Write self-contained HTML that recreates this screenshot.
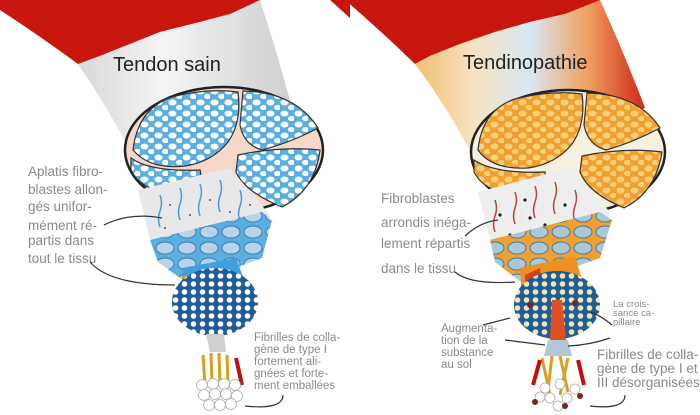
<!DOCTYPE html>
<html><head><meta charset="utf-8"><style>
html,body{margin:0;padding:0;background:#fff;width:700px;height:415px;overflow:hidden}
svg{display:block}
text{font-family:"Liberation Sans",sans-serif}
.lab{fill:#8a8a8a;font-size:13.5px}
.sm{fill:#8a8a8a;font-size:11.5px}
</style></head><body>
<svg width="700" height="415" viewBox="0 0 700 415" xmlns="http://www.w3.org/2000/svg">
<defs>
<pattern id="bcell" width="14" height="11" patternUnits="userSpaceOnUse">
<rect width="14" height="11" fill="#5aaee0"/><ellipse cx="4.5" cy="3.5" rx="4" ry="3" fill="#fff"/><ellipse cx="11.5" cy="8.5" rx="3.5" ry="2.6" fill="#fff"/></pattern>
<pattern id="ocell" width="14" height="11" patternUnits="userSpaceOnUse">
<rect width="14" height="11" fill="#f0a030"/><ellipse cx="4.5" cy="3.5" rx="4" ry="3" fill="#fbd07a"/><ellipse cx="11.5" cy="8.5" rx="3.5" ry="2.6" fill="#fbd07a"/></pattern>
<pattern id="bdisc" width="9" height="8" patternUnits="userSpaceOnUse">
<rect width="9" height="8" fill="#1f5c9a"/><circle cx="4.5" cy="4" r="2.8" fill="#fff"/></pattern>
<pattern id="odisc" width="9" height="8" patternUnits="userSpaceOnUse">
<rect width="9" height="8" fill="#1f5c9a"/><circle cx="4.5" cy="4" r="2.8" fill="#f2e6b0"/></pattern>
<pattern id="bsmall" width="22" height="16" patternUnits="userSpaceOnUse">
<rect width="22" height="16" fill="#5aaee0"/><ellipse cx="11" cy="8" rx="9" ry="6" fill="#b8d4e8" stroke="#3a7ab0" stroke-width="1"/></pattern>
<pattern id="osmall" width="22" height="16" patternUnits="userSpaceOnUse">
<rect width="22" height="16" fill="#f0a030"/><ellipse cx="11" cy="8" rx="9" ry="6" fill="#a8c8d8" stroke="#3a7ab0" stroke-width="1"/></pattern>
<linearGradient id="shaftL" x1="0" x2="1"><stop offset="0" stop-color="#d8d8d8"/><stop offset="0.4" stop-color="#f4f4f4"/><stop offset="1" stop-color="#cfcfcf"/></linearGradient>
<linearGradient id="shaftR" x1="0" x2="1"><stop offset="0" stop-color="#f0c070"/><stop offset="0.25" stop-color="#f7e2c0"/><stop offset="0.5" stop-color="#d8e8f4"/><stop offset="0.75" stop-color="#f0a060"/><stop offset="1" stop-color="#d02818"/></linearGradient>
</defs>

<!-- LEFT PANEL -->
<path d="M0,0 L260,0 L255,8 L230,14 L200,22 L160,32 L130,44 L100,56 L78,64 Q40,36 0,10 Z" fill="#c8160e"/>
<path d="M330,0 L350,0 L350,18 Z" fill="#c8160e"/>
<path d="M78,64 L100,56 L130,44 L160,32 L200,22 L230,14 L260,0 Q278,55 292,108 L140,170 Q110,110 78,64 Z" fill="url(#shaftL)"/>
<ellipse cx="224" cy="150" rx="99" ry="63" fill="#f6d8c8" stroke="#222" stroke-width="2.5"/>
<path d="M133,150 Q138,108 172,97 Q205,88 238,92 Q242,122 228,142 Q212,162 185,166 Q150,170 133,150Z" fill="url(#bcell)" stroke="#333" stroke-width="1.2"/>
<path d="M243,91 Q295,92 318,128 Q292,142 262,150 Q244,145 240,125Z" fill="url(#bcell)" stroke="#333" stroke-width="1.2"/>
<path d="M131,158 Q150,172 200,170 Q205,185 175,195 Q140,190 131,170Z" fill="url(#bcell)" stroke="#333" stroke-width="1.2"/>
<path d="M238,155 Q280,146 320,150 Q315,190 282,207 Q245,192 236,172Z" fill="url(#bcell)" stroke="#333" stroke-width="1.2"/>
<path d="M138,190 L230,168 L270,215 L262,240 L175,265 L150,240Z" fill="#e8e8ea"/>
<g stroke="#4a9ad0" stroke-width="1.5" fill="none">
<path d="M160,195 q3,8 0,16 q-3,8 0,16"/><path d="M180,188 q3,8 0,16 q-3,8 0,16"/><path d="M200,184 q3,8 0,16 q-3,8 0,16"/><path d="M220,180 q3,8 0,16 q-3,8 0,16"/><path d="M240,190 q3,8 0,16 q-3,8 0,16"/></g>
<g fill="#555"><circle cx="170" cy="205" r="1"/><circle cx="190" cy="215" r="1"/><circle cx="210" cy="200" r="1"/><circle cx="230" cy="212" r="1"/><circle cx="165" cy="228" r="1"/><circle cx="200" cy="228" r="1"/><circle cx="250" cy="205" r="1"/></g>
<path d="M150,240 L262,212 L272,220 L262,258 L190,285 L158,262Z" fill="url(#bsmall)"/>
<path d="M182,268 L236,258 L248,290 L188,300Z" fill="#3ea0dc"/>
<rect x="182" y="275" width="10" height="12" fill="#e08a20"/>
<ellipse cx="215" cy="302" rx="43" ry="34" fill="url(#bdisc)"/>
<path d="M206,334 L224,334 L226,352 L210,352Z" fill="#cfcfcf"/>
<g stroke="#d8a020" stroke-width="3"><line x1="203" y1="355" x2="205" y2="385"/><line x1="211" y1="353" x2="212" y2="385"/><line x1="219" y1="353" x2="220" y2="385"/><line x1="227" y1="355" x2="228" y2="385"/></g>
<line x1="236" y1="358" x2="242" y2="385" stroke="#c01010" stroke-width="4"/>
<g fill="#fff" stroke="#aaa" stroke-width="0.8">
<circle cx="202" cy="385" r="5.5"/><circle cx="213" cy="384" r="5.5"/><circle cx="224" cy="384" r="5.5"/><circle cx="235" cy="385" r="5.5"/><circle cx="204" cy="395" r="5.5"/><circle cx="215" cy="394" r="5.5"/><circle cx="226" cy="394" r="5.5"/><circle cx="237" cy="396" r="5.5"/><circle cx="209" cy="405" r="5.5"/><circle cx="220" cy="405" r="5.5"/><circle cx="231" cy="404" r="5.5"/></g>
<text x="113" y="71" font-size="20" fill="#222">Tendon sain</text>
<g class="lab"><text x="28" y="176">Aplatis fibro-</text><text x="28" y="194">blastes allon-</text><text x="28" y="211">gés unifor-</text><text x="28" y="230">mément ré-</text><text x="28" y="245">partis dans</text><text x="28" y="263">tout le tissu</text></g>
<g fill="none" stroke="#333" stroke-width="1.2">
<path d="M104,225 Q130,212 162,218"/><path d="M90,262 Q110,285 175,285"/><path d="M283,395 Q283,410 245,406"/></g>
<g class="sm"><text x="254" y="341">Fibrilles de colla-</text><text x="254" y="353">gène de type I</text><text x="254" y="365">fortement ali-</text><text x="254" y="377">gnées et forte-</text><text x="254" y="389">ment emballées</text></g>

<!-- RIGHT PANEL -->
<path d="M330,0 L600,0 L592,8 L565,14 L530,22 L495,32 L460,44 L430,56 L415,64 Q380,30 345,0Z" fill="#c8160e"/>
<path d="M415,64 L430,56 L460,44 L495,32 L530,22 L565,14 L600,0 Q625,55 645,108 L480,170 Q450,110 415,64Z" fill="url(#shaftR)"/>
<ellipse cx="568" cy="152" rx="97" ry="62" fill="#f6f0e0" stroke="#222" stroke-width="2.5"/>
<path d="M478,150 Q482,110 515,99 Q550,90 582,94 Q586,124 572,144 Q556,164 528,168 Q492,170 478,150Z" fill="url(#ocell)" stroke="#333" stroke-width="1.2"/>
<path d="M587,93 Q638,94 660,128 Q634,142 606,150 Q588,145 584,125Z" fill="url(#ocell)" stroke="#333" stroke-width="1.2"/>
<path d="M474,160 Q495,174 545,172 Q548,186 518,196 Q484,192 474,172Z" fill="url(#ocell)" stroke="#333" stroke-width="1.2"/>
<path d="M582,156 Q625,147 662,152 Q656,192 624,208 Q588,193 580,172Z" fill="url(#ocell)" stroke="#333" stroke-width="1.2"/>
<path d="M478,192 L570,168 L610,212 L600,240 L515,265 L490,240Z" fill="#eee"/>
<g stroke="#c04040" stroke-width="1.5" fill="none">
<path d="M495,200 q3,8 0,16 q-3,8 0,16"/><path d="M515,192 q3,8 0,16 q-3,8 0,16"/><path d="M535,186 q3,8 0,16 q-3,8 0,16"/><path d="M555,182 q3,8 0,16 q-3,8 0,16"/><path d="M575,190 q3,8 0,16 q-3,8 0,16"/></g>
<g fill="#222"><circle cx="500" cy="215" r="1.6"/><circle cx="525" cy="200" r="1.6"/><circle cx="545" cy="225" r="1.6"/><circle cx="565" cy="205" r="1.6"/><circle cx="510" cy="235" r="1.6"/><circle cx="585" cy="225" r="1.6"/><circle cx="530" cy="218" r="1.6"/><circle cx="555" cy="240" r="1.6"/></g>
<path d="M490,240 L600,212 L612,220 L600,258 L525,285 L495,262Z" fill="url(#osmall)"/>
<path d="M520,268 L575,256 L585,290 L522,300Z" fill="#f09020"/>
<path d="M525,275 L540,268 L542,295 L525,298Z" fill="#d84010"/>
<ellipse cx="557" cy="305" rx="43" ry="34" fill="url(#odisc)"/>
<circle cx="530" cy="305" r="3" fill="#802020"/><circle cx="575" cy="303" r="3" fill="#802020"/>
<path d="M552,300 L562,300 L566,340 L550,340Z" fill="#e05020"/>
<path d="M548,340 L568,340 L572,356 L544,356Z" fill="#b0c8d8"/>
<g stroke="#d8a020" stroke-width="3"><line x1="542" y1="358" x2="550" y2="395"/><line x1="552" y1="356" x2="548" y2="390"/><line x1="560" y1="356" x2="568" y2="392"/><line x1="568" y1="358" x2="560" y2="395"/></g>
<line x1="540" y1="360" x2="533" y2="385" stroke="#c01010" stroke-width="4"/><line x1="578" y1="360" x2="584" y2="385" stroke="#c01010" stroke-width="4"/>
<g fill="#fff" stroke="#aaa" stroke-width="0.8">
<circle cx="545" cy="388" r="5"/><circle cx="560" cy="384" r="5"/><circle cx="575" cy="389" r="5"/><circle cx="550" cy="398" r="5"/><circle cx="567" cy="398" r="5"/><circle cx="558" cy="406" r="5"/><circle cx="540" cy="397" r="5"/></g>
<g fill="#802020"><circle cx="535" cy="402" r="3"/><circle cx="580" cy="396" r="3"/><circle cx="565" cy="406" r="3"/></g>
<text x="463" y="69" font-size="20" fill="#222">Tendinopathie</text>
<g class="lab" font-size="13"><text x="381" y="203">Fibroblastes</text><text x="381" y="227">arrondis inéga-</text><text x="381" y="248">lement répartis</text><text x="381" y="273">dans le tissu</text></g>
<g fill="none" stroke="#333" stroke-width="1.2">
<path d="M465,236 Q480,222 498,220"/><path d="M455,272 Q470,285 515,282"/><path d="M612,325 Q600,315 590,312"/>
<path d="M483,325 L510,318"/><path d="M505,340 L545,345"/><path d="M610,338 Q590,345 568,346"/><path d="M625,395 Q625,410 590,406"/></g>
<g class="sm"><text x="441" y="332">Augmenta-</text><text x="441" y="344">tion de la</text><text x="441" y="356">substance</text><text x="441" y="368">au sol</text></g>
<g fill="#8a8a8a" font-size="9.5"><text x="613" y="307">La crois-</text><text x="613" y="316">sance ca-</text><text x="613" y="325">pillaire</text></g>
<g class="lab" font-size="13"><text x="597" y="359">Fibrilles de colla-</text><text x="597" y="373">gène de type I et</text><text x="597" y="387">III désorganisées</text></g>
</svg>
</body></html>
